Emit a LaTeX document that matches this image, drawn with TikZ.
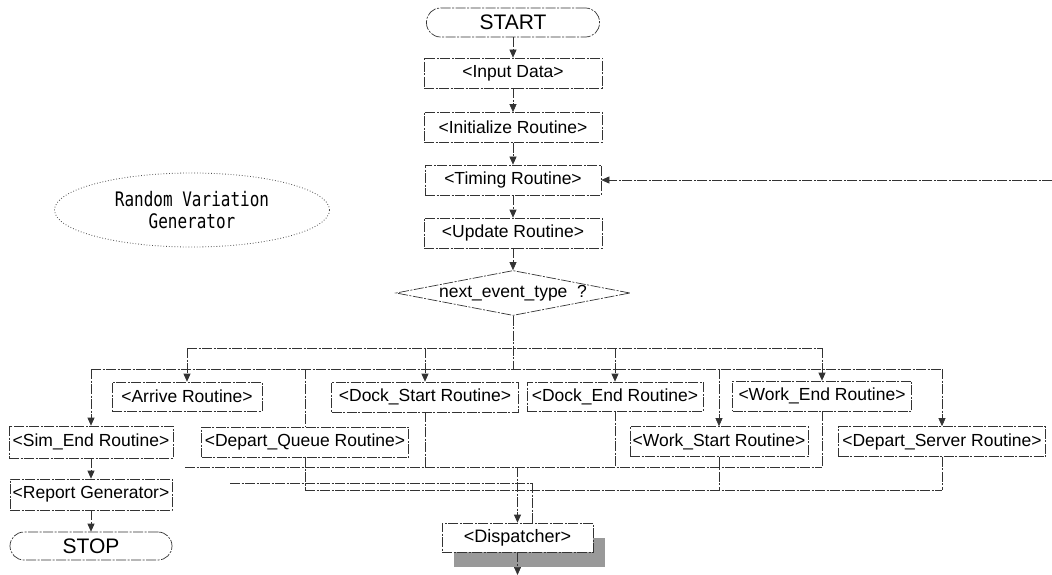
\documentclass[tikz,border=0pt]{standalone}
\usepackage{fontspec}
\setmainfont{Liberation Sans}
\newfontfamily\rvgfont[FakeStretch=0.8]{DejaVu Sans Mono}
\usetikzlibrary{arrows.meta,shapes.geometric,shadows}
\begin{document}
\begin{tikzpicture}[x=1pt,y=-1pt,
    line/.style={draw=black!80,line width=0.7pt,dash pattern=on 10pt off 1.5pt on 2pt off 1.5pt},
    arr/.style={line,-{Triangle[length=8pt,width=7pt]}},
    box/.style={line,minimum height=30pt,inner sep=2pt,font=\fontsize{17.5}{20}\selectfont},
    term/.style={box,rounded corners=14pt,minimum height=29pt,font=\fontsize{21}{24}\selectfont}]
  \useasboundingbox (0,0) rectangle (1052,575);
  % main chain
  \node[term,minimum width=173pt] (start) at (513,22.5) {START};
  \node[box,minimum width=178pt] (input) at (513,73) {<Input Data>};
  \node[box,minimum width=178pt] (init) at (513,127.5) {<Initialize Routine>};
  \node[box,minimum width=176pt] (timing) at (513,180) {<Timing Routine>};
  \node[box,minimum width=178pt] (update) at (513,233) {<Update Routine>};
  \node[line,diamond,aspect=5.2,inner sep=0pt,minimum width=234pt,minimum height=45pt,
        font=\fontsize{17.5}{20}\selectfont] (event) at (513,293) {next\_event\_type\ \ ?};
  \node[ellipse,draw=black!70,dotted,line width=0.8pt,minimum width=275pt,minimum height=74pt,
        align=center,font=\rvgfont\fontsize{20}{22}\selectfont] (rvg) at (192,210)
        {Random Variation\\Generator};
  % event routines
  \node[box,minimum width=150pt,minimum height=29pt] (arrive) at (187,396.5) {<Arrive Routine>};
  \node[box,minimum width=187pt] (dockstart) at (425,397) {<Dock\_Start Routine>};
  \node[box,minimum width=176pt,minimum height=29pt] (dockend) at (615,396.5) {<Dock\_End Routine>};
  \node[box,minimum width=179pt] (workend) at (822,396) {<Work\_End Routine>};
  \node[box,minimum width=164pt,minimum height=32pt] (simend) at (91,442) {<Sim\_End Routine>};
  \node[box,minimum width=207pt] (departq) at (305,442) {<Depart\_Queue Routine>};
  \node[box,minimum width=178pt] (workstart) at (719,441.5) {<Work\_Start Routine>};
  \node[box,minimum width=207pt] (departs) at (942,441.5) {<Depart\_Server Routine>};
  \node[box,minimum width=162pt,minimum height=31pt] (report) at (91,494.5) {<Report Generator>};
  \node[term,minimum width=162pt,minimum height=28pt] (stop) at (91,546) {STOP};
  \node[box,minimum width=151pt,minimum height=29pt,fill=white,font=\fontsize{18}{20}\selectfont,
        drop shadow={shadow xshift=12pt,shadow yshift=-15pt,fill=black!40,opacity=1}]
        (dispatcher) at (517.5,537.5) {<Dispatcher>};
  % bus ends
  \coordinate (feedback) at (1052,180);
  \coordinate (upL) at (187,348);
  \coordinate (upR) at (822,348);
  \coordinate (loL) at (91,369);
  \coordinate (loR) at (942,369);
  \coordinate (cAL) at (185,467);
  \coordinate (cAR) at (822,467);
  \coordinate (cBL) at (230,483);
  \coordinate (cBR) at (532,483);
  \coordinate (cCL) at (305,490);
  \coordinate (cCR) at (942,490);
  \coordinate (out) at (517.5,575);
  % main arrows
  \draw[arr] (start) -- (input);
  \draw[arr] (input) -- (init);
  \draw[arr] (init) -- (timing);
  \draw[arr] (timing) -- (update);
  \draw[arr] (update) -- (event);
  \draw[arr] (feedback) -- (timing.east);
  % branching
  \draw[line] (event.south) -- (event |- loL);
  \draw[line] (upL) -- (upR);
  \draw[line] (loL) -- (loR);
  \draw[arr] (upL) -- (arrive.north);
  \draw[arr] (dockstart |- upL) -- (dockstart.north);
  \draw[arr] (dockend |- upL) -- (dockend.north);
  \draw[arr] (upR) -- (workend.north);
  \draw[arr] (loL) -- (simend.north);
  \draw[line] (departq |- loL) -- (departq.north);
  \draw[arr] (workstart |- loL) -- (workstart.north);
  \draw[arr] (loR) -- (departs.north);
  \draw[arr] (simend) -- (report);
  \draw[arr] (report) -- (stop);
  % collecting
  \draw[line] (cAL) -- (cAR);
  \draw[line] (cBL) -- (cBR);
  \draw[line] (cCL) -- (cCR);
  \draw[line] (departq.south) -- (cCL);
  \draw[line] (dockstart.south) -- (dockstart |- cAL);
  \draw[line] (dockend.south) -- (dockend |- cAL);
  \draw[line] (workstart.south) -- (workstart |- cCL);
  \draw[line] (workend.south) -- (cAR);
  \draw[line] (departs.south) -- (cCR);
  \draw[arr] (dispatcher |- cAL) -- (dispatcher.north);
  \draw[line] (cBR) -- (cBR |- dispatcher.north);
  \draw[arr] (dispatcher.south) -- (out);
\end{tikzpicture}
\end{document}
